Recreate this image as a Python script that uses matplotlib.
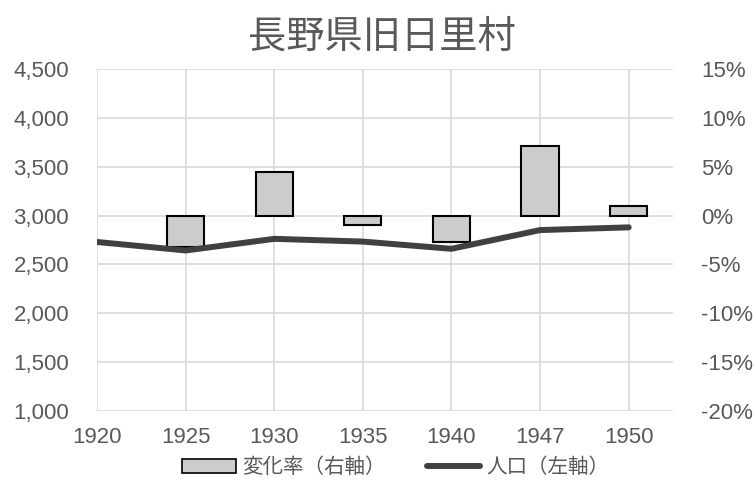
import matplotlib
matplotlib.use("Agg")
import matplotlib.pyplot as plt
from matplotlib.patches import Patch
from matplotlib.lines import Line2D
from matplotlib.ticker import FuncFormatter

years = ["1920", "1925", "1930", "1935", "1940", "1947", "1950"]
population = [2730, 2643, 2762, 2734, 2660, 2852, 2880]
change_rate = [None, -3.2, 4.5, -1.0, -2.7, 7.1, 1.0]  # percent

title = "長野県旧日里村"
bar_label = "変化率（右軸）"
line_label = "人口（左軸）"

TXT = "#595959"
GRID = "#d9d9d9"
BAR = "#cccccc"
LINE = "#404040"
CJK = ["Noto Sans CJK JP", "DejaVu Sans"]
NUM = ["Liberation Sans", "DejaVu Sans"]

fig = plt.figure(figsize=(7.54, 4.92), dpi=100)
ax2 = fig.add_axes([0.1286, 0.1652, 0.7640, 0.6939])
ax1 = ax2.twinx()
ax1.yaxis.tick_left()
ax1.yaxis.set_label_position("left")
ax2.yaxis.tick_right()
ax2.yaxis.set_label_position("right")
ax1.set_zorder(ax2.get_zorder() + 1)
ax1.patch.set_visible(False)

x = list(range(len(years)))

# bars (right axis)
bx = [i for i, v in zip(x, change_rate) if v is not None]
bv = [v for v in change_rate if v is not None]
ax2.bar(bx, bv, width=0.42, color=BAR, edgecolor="black", linewidth=1.5, zorder=3)
ax2.set_ylim(-20, 15)
ax2.set_yticks(range(-20, 16, 5))
ax2.yaxis.set_major_formatter(FuncFormatter(lambda v, p: f"{int(v)}%"))

# line (left axis)
ax1.plot(x, population, color=LINE, linewidth=4.3, solid_capstyle="round", zorder=4)
ax1.set_ylim(1000, 4500)
ax1.set_yticks(range(1000, 4501, 500))
ax1.yaxis.set_major_formatter(FuncFormatter(lambda v, p: f"{int(v):,}"))

ax2.set_xticks(x)
ax2.set_xticklabels(years)
ax2.set_xlim(0, len(years) - 0.5)

for a in (ax1, ax2):
    for s in a.spines.values():
        s.set_visible(False)
    a.tick_params(length=0, labelsize=16, labelcolor=TXT)

ax1.tick_params(axis="x", labelbottom=False, labeltop=False)
ax2.grid(True, color=GRID, linewidth=1.2, zorder=0)
ax2.set_axisbelow(True)
ax2.tick_params(axis="y", pad=20)
ax1.tick_params(axis="y", pad=20)
ax2.tick_params(axis="x", pad=12)
for lab in ax1.get_yticklabels() + ax2.get_yticklabels() + ax2.get_xticklabels():
    lab.set_family(NUM)

fig.text(0.507, 0.925, title, ha="center", va="center", fontsize=27.5,
         color=TXT, family=CJK)

handles = [Patch(facecolor=BAR, edgecolor="black", linewidth=1.2),
           Line2D([0], [0], color=LINE, linewidth=4.3, solid_capstyle="round")]
leg = fig.legend(handles, [bar_label, line_label], loc="center",
                 bbox_to_anchor=(0.525, 0.05), ncol=2, frameon=False,
                 prop={"family": CJK, "size": 14.8}, handlelength=2.6,
                 handleheight=0.65, handletextpad=0.3, columnspacing=2.0)
for t in leg.get_texts():
    t.set_color(TXT)

fig.savefig("out.png", dpi=100)
